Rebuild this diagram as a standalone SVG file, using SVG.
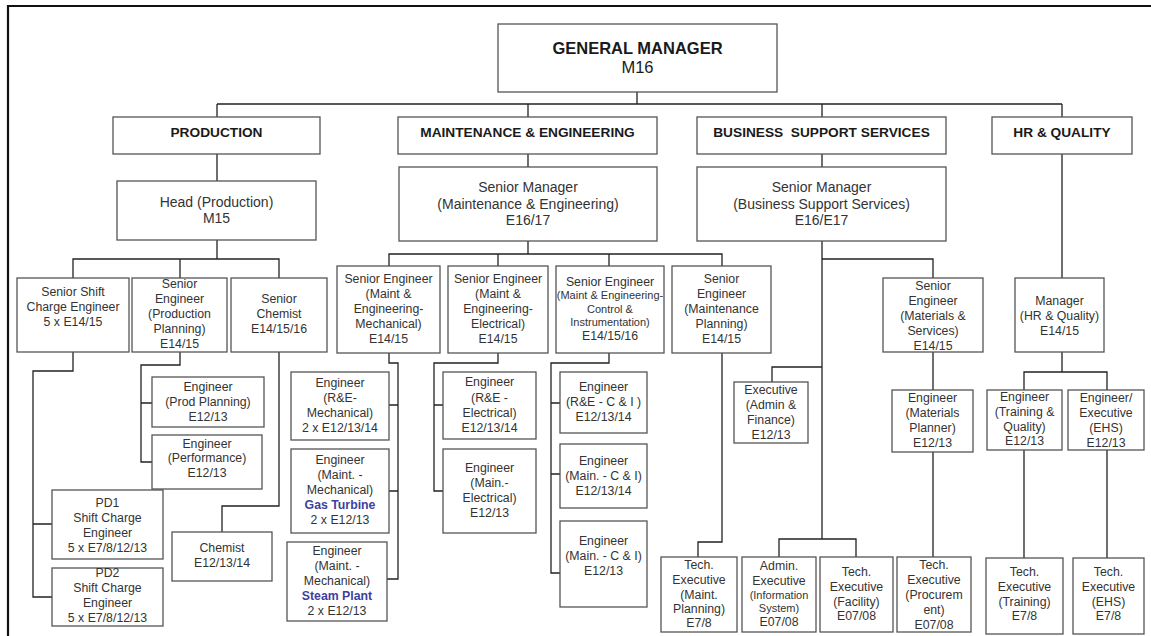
<svg xmlns="http://www.w3.org/2000/svg" width="1151" height="636" viewBox="0 0 1151 636">
<style>
.bg{fill:#fff}
.frame{fill:none;stroke:#111;stroke-width:2.2}
.b{fill:#fff;stroke:#555;stroke-width:1.3}
.l{fill:none;stroke:#222;stroke-width:1.3}
text{font-family:"Liberation Sans",Arial,sans-serif;text-anchor:middle;fill:#333}
.t{font-size:12.3px}
.s{font-size:11px}
.m{font-size:14px}
.h{font-size:13.7px;font-weight:bold;fill:#1a1a1a}
.g{font-size:16.5px;fill:#1a1a1a}
.gb{font-weight:bold}
.blue{font-weight:bold;fill:#3f3f9f}
</style>
<rect class="bg" x="0" y="0" width="1151" height="636"/>
<path class="frame" d="M8,640 V6 H1155"/>

<g id="connectors">
<path class="l" d="M637,92 V104 M217,104 H1062 M217,104 V117 M528,104 V117 M822,104 V117 M1062,104 V117"/>
<path class="l" d="M217,154 V181 M217,240 V259 M73,278 V259 H279 V278 M180,259 V278"/>
<path class="l" d="M73,352 V371 H33 V597 H52 M33,524 H52"/>
<path class="l" d="M180,352 V365 H141 V462 H152 M141,403 H152"/>
<path class="l" d="M279,352 V506 H222 V532"/>
<path class="l" d="M528,154 V167 M528,241 V254 M389,266 V254 H722 V266 M498,254 V266 M609,254 V266"/>
<path class="l" d="M389,353 V363 H398 V579 H387 M398,405 H389 M398,491 H389"/>
<path class="l" d="M498,353 V363 H434 V491 H443 M434,405 H443"/>
<path class="l" d="M609,353 V363 H551 V573 H560 M551,403 H560 M551,474 H560"/>
<path class="l" d="M722,353 V542 H698 V557"/>
<path class="l" d="M822,154 V167 M822,241 V539 M822,259 H933 V278 M822,367 H772 V382 M779,557 V539 H856 V557"/>
<path class="l" d="M933,352 V390 M933,452 V557"/>
<path class="l" d="M1062,154 V278 M1062,352 V372 M1024,390 V372 H1107 V390 M1024,450 V558 M1107,450 V558"/>
</g>

<g id="gm"><rect class="b" x="498" y="24" width="279" height="68"/>
<text class="g gb" x="637.5" y="54">GENERAL MANAGER</text><text class="g" x="637.5" y="73">M16</text></g>

<g id="production"><rect class="b" x="113" y="117" width="207" height="37"/><text class="h" x="216.5" y="137">PRODUCTION</text></g>
<g id="maintenance"><rect class="b" x="398" y="117" width="259" height="37"/><text class="h" x="527.5" y="137">MAINTENANCE &amp; ENGINEERING</text></g>
<g id="bss"><rect class="b" x="697" y="117" width="249" height="37"/><text class="h" x="821.5" y="137" xml:space="preserve">BUSINESS  SUPPORT SERVICES</text></g>
<g id="hr"><rect class="b" x="992" y="117" width="140" height="37"/><text class="h" x="1062" y="137">HR &amp; QUALITY</text></g>

<g id="head-production"><rect class="b" x="117" y="181" width="199" height="59"/>
<text class="m" x="216.5" y="207">Head (Production)</text><text class="m" x="216.5" y="223">M15</text></g>
<g id="sm-me"><rect class="b" x="399" y="167" width="258" height="74"/>
<text class="m" x="528" y="192">Senior Manager</text><text class="m" x="528" y="208.5">(Maintenance &amp; Engineering)</text><text class="m" x="528" y="225">E16/17</text></g>
<g id="sm-bss"><rect class="b" x="697" y="167" width="249" height="74"/>
<text class="m" x="821.5" y="192">Senior Manager</text><text class="m" x="821.5" y="208.5">(Business Support Services)</text><text class="m" x="821.5" y="225">E16/E17</text></g>

<g id="senior-shift"><rect class="b" x="17" y="278" width="112" height="74"/>
<text class="t" x="73" y="296">Senior Shift</text><text class="t" x="73" y="311">Charge Engineer</text><text class="t" x="73" y="326">5 x E14/15</text></g>
<g id="se-pp"><rect class="b" x="132" y="278" width="95" height="74"/>
<text class="t" x="179.5" y="288">Senior</text><text class="t" x="179.5" y="303">Engineer</text><text class="t" x="179.5" y="318">(Production</text><text class="t" x="179.5" y="333">Planning)</text><text class="t" x="179.5" y="348">E14/15</text></g>
<g id="senior-chemist"><rect class="b" x="231" y="278" width="96" height="74"/>
<text class="t" x="279" y="303">Senior</text><text class="t" x="279" y="318">Chemist</text><text class="t" x="279" y="333">E14/15/16</text></g>

<g id="eng-prod-planning"><rect class="b" x="152" y="377" width="112" height="50"/>
<text class="t" x="208" y="391">Engineer</text><text class="t" x="208" y="406">(Prod Planning)</text><text class="t" x="208" y="421">E12/13</text></g>
<g id="eng-performance"><rect class="b" x="152" y="435" width="110" height="54"/>
<text class="t" x="207" y="448">Engineer</text><text class="t" x="207" y="462">(Performance)</text><text class="t" x="207" y="477">E12/13</text></g>
<g id="pd1"><rect class="b" x="52" y="490" width="111" height="69"/>
<text class="t" x="107.5" y="507">PD1</text><text class="t" x="107.5" y="522">Shift Charge</text><text class="t" x="107.5" y="537">Engineer</text><text class="t" x="107.5" y="552">5 x E7/8/12/13</text></g>
<g id="pd2"><rect class="b" x="52" y="568" width="111" height="58"/>
<text class="t" x="107.5" y="577">PD2</text><text class="t" x="107.5" y="592">Shift Charge</text><text class="t" x="107.5" y="607">Engineer</text><text class="t" x="107.5" y="622">5 x E7/8/12/13</text></g>
<g id="chemist"><rect class="b" x="172" y="532" width="100" height="49"/>
<text class="t" x="222" y="552">Chemist</text><text class="t" x="222" y="567">E12/13/14</text></g>

<g id="se-mech"><rect class="b" x="337" y="266" width="103" height="87"/>
<text class="t" x="388.5" y="283">Senior Engineer</text><text class="t" x="388.5" y="298">(Maint &amp;</text><text class="t" x="388.5" y="313">Engineering-</text><text class="t" x="388.5" y="328">Mechanical)</text><text class="t" x="388.5" y="343">E14/15</text></g>
<g id="se-elec"><rect class="b" x="448" y="266" width="100" height="87"/>
<text class="t" x="498" y="283">Senior Engineer</text><text class="t" x="498" y="298">(Maint &amp;</text><text class="t" x="498" y="313">Engineering-</text><text class="t" x="498" y="328">Electrical)</text><text class="t" x="498" y="343">E14/15</text></g>
<g id="se-ci"><rect class="b" x="556" y="266" width="108" height="87"/>
<text class="t" x="610" y="286">Senior Engineer</text><text class="s" x="610" y="299">(Maint &amp; Engineering-</text><text class="s" x="610" y="313">Control &amp;</text><text class="s" x="610" y="326">Instrumentation)</text><text class="t" x="610" y="340">E14/15/16</text></g>
<g id="se-mp"><rect class="b" x="672" y="266" width="99" height="87"/>
<text class="t" x="721.5" y="283">Senior</text><text class="t" x="721.5" y="298">Engineer</text><text class="t" x="721.5" y="313">(Maintenance</text><text class="t" x="721.5" y="328">Planning)</text><text class="t" x="721.5" y="343">E14/15</text></g>

<g id="eng-re-mech"><rect class="b" x="291" y="372" width="98" height="68"/>
<text class="t" x="340" y="387">Engineer</text><text class="t" x="340" y="402">(R&amp;E-</text><text class="t" x="340" y="417">Mechanical)</text><text class="t" x="340" y="432">2 x E12/13/14</text></g>
<g id="eng-gas-turbine"><rect class="b" x="291" y="449" width="98" height="84"/>
<text class="t" x="340" y="464">Engineer</text><text class="t" x="340" y="479">(Maint. -</text><text class="t" x="340" y="494">Mechanical)</text><text class="t blue" x="340" y="509">Gas Turbine</text><text class="t" x="340" y="524">2 x E12/13</text></g>
<g id="eng-steam-plant"><rect class="b" x="287" y="542" width="100" height="79"/>
<text class="t" x="337" y="555">Engineer</text><text class="t" x="337" y="570">(Maint. -</text><text class="t" x="337" y="585">Mechanical)</text><text class="t blue" x="337" y="600">Steam Plant</text><text class="t" x="337" y="615">2 x E12/13</text></g>

<g id="eng-re-elec"><rect class="b" x="443" y="372" width="93" height="67"/>
<text class="t" x="489.5" y="386">Engineer</text><text class="t" x="489.5" y="402">(R&amp;E -</text><text class="t" x="489.5" y="417">Electrical)</text><text class="t" x="489.5" y="432">E12/13/14</text></g>
<g id="eng-main-elec"><rect class="b" x="443" y="449" width="93" height="84"/>
<text class="t" x="489.5" y="472">Engineer</text><text class="t" x="489.5" y="487">(Main.-</text><text class="t" x="489.5" y="502">Electrical)</text><text class="t" x="489.5" y="517">E12/13</text></g>

<g id="eng-re-ci"><rect class="b" x="560" y="372" width="87" height="61"/>
<text class="t" x="603.5" y="391">Engineer</text><text class="t" x="603.5" y="406">(R&amp;E - C &amp; I )</text><text class="t" x="603.5" y="421">E12/13/14</text></g>
<g id="eng-main-ci-1"><rect class="b" x="560" y="444" width="87" height="64"/>
<text class="t" x="603.5" y="465">Engineer</text><text class="t" x="603.5" y="480">(Main. - C &amp; I)</text><text class="t" x="603.5" y="495">E12/13/14</text></g>
<g id="eng-main-ci-2"><rect class="b" x="560" y="521" width="87" height="86"/>
<text class="t" x="603.5" y="545">Engineer</text><text class="t" x="603.5" y="560">(Main. - C &amp; I)</text><text class="t" x="603.5" y="575">E12/13</text></g>

<g id="exec-admin-finance"><rect class="b" x="734" y="382" width="74" height="61"/>
<text class="t" x="771" y="394">Executive</text><text class="t" x="771" y="409">(Admin &amp;</text><text class="t" x="771" y="424">Finance)</text><text class="t" x="771" y="439">E12/13</text></g>
<g id="se-materials"><rect class="b" x="883" y="278" width="100" height="74"/>
<text class="t" x="933" y="290">Senior</text><text class="t" x="933" y="305">Engineer</text><text class="t" x="933" y="320">(Materials &amp;</text><text class="t" x="933" y="335">Services)</text><text class="t" x="933" y="350">E14/15</text></g>
<g id="eng-materials-planner"><rect class="b" x="892" y="390" width="81" height="62"/>
<text class="t" x="932.5" y="402">Engineer</text><text class="t" x="932.5" y="417">(Materials</text><text class="t" x="932.5" y="432">Planner)</text><text class="t" x="932.5" y="447">E12/13</text></g>

<g id="mgr-hr"><rect class="b" x="1015" y="278" width="89" height="74"/>
<text class="t" x="1059.5" y="305">Manager</text><text class="t" x="1059.5" y="320">(HR &amp; Quality)</text><text class="t" x="1059.5" y="335">E14/15</text></g>
<g id="eng-training-quality"><rect class="b" x="987" y="390" width="75" height="60"/>
<text class="t" x="1024.5" y="401">Engineer</text><text class="t" x="1024.5" y="416">(Training &amp;</text><text class="t" x="1024.5" y="431">Quality)</text><text class="t" x="1024.5" y="445">E12/13</text></g>
<g id="eng-ehs"><rect class="b" x="1068" y="390" width="76" height="60"/>
<text class="t" x="1106" y="402">Engineer/</text><text class="t" x="1106" y="417">Executive</text><text class="t" x="1106" y="432">(EHS)</text><text class="t" x="1106" y="447">E12/13</text></g>

<g id="te-maint-planning"><rect class="b" x="661" y="557" width="76" height="75"/>
<text class="t" x="699" y="569">Tech.</text><text class="t" x="699" y="584">Executive</text><text class="t" x="699" y="599">(Maint.</text><text class="t" x="699" y="613">Planning)</text><text class="t" x="699" y="627">E7/8</text></g>
<g id="admin-exec-is"><rect class="b" x="742" y="557" width="74" height="75"/>
<text class="t" x="779" y="570">Admin.</text><text class="t" x="779" y="585">Executive</text><text class="s" x="779" y="599">(Information</text><text class="s" x="779" y="612">System)</text><text class="t" x="779" y="626">E07/08</text></g>
<g id="te-facility"><rect class="b" x="820" y="557" width="73" height="75"/>
<text class="t" x="856.5" y="576">Tech.</text><text class="t" x="856.5" y="591">Executive</text><text class="t" x="856.5" y="606">(Facility)</text><text class="t" x="856.5" y="620">E07/08</text></g>
<g id="te-procurement"><rect class="b" x="897" y="557" width="74" height="75"/>
<text class="t" x="934" y="569">Tech.</text><text class="t" x="934" y="584">Executive</text><text class="t" x="934" y="599">(Procurem</text><text class="t" x="934" y="614">ent)</text><text class="t" x="934" y="629">E07/08</text></g>
<g id="te-training"><rect class="b" x="986" y="558" width="77" height="76"/>
<text class="t" x="1024.5" y="576">Tech.</text><text class="t" x="1024.5" y="591">Executive</text><text class="t" x="1024.5" y="606">(Training)</text><text class="t" x="1024.5" y="620">E7/8</text></g>
<g id="te-ehs"><rect class="b" x="1073" y="558" width="71" height="76"/>
<text class="t" x="1108.5" y="576">Tech.</text><text class="t" x="1108.5" y="591">Executive</text><text class="t" x="1108.5" y="606">(EHS)</text><text class="t" x="1108.5" y="620">E7/8</text></g>
</svg>
